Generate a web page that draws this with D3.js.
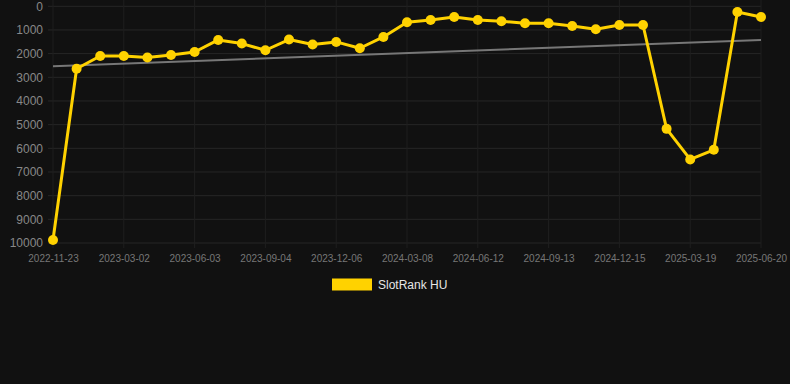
<!DOCTYPE html>
<html>
<head>
<meta charset="utf-8">
<script src="https://cdn.jsdelivr.net/npm/d3@7/dist/d3.min.js"></script>
<style>
  html, body { margin: 0; padding: 0; background: #111111; }
  svg { display: block; }
</style>
</head>
<body>
<svg id="chart" width="790" height="384"></svg>
<script>
const categories = [
  "2022-11-23","2022-12-26","2023-01-28","2023-03-02","2023-04-02","2023-05-03",
  "2023-06-03","2023-07-04","2023-08-04","2023-09-04","2023-10-05","2023-11-05",
  "2023-12-06","2024-01-06","2024-02-06","2024-03-08","2024-04-10","2024-05-11",
  "2024-06-12","2024-07-13","2024-08-13","2024-09-13","2024-10-14","2024-11-14",
  "2024-12-15","2025-01-15","2025-02-16","2025-03-19","2025-04-19","2025-05-20",
  "2025-06-20"
];
const rankValues = [
  9870, 2640, 2100, 2100, 2165, 2055,
  1930, 1420, 1575, 1857, 1406, 1617,
  1505, 1772, 1294, 675, 578, 451,
  578, 633, 717, 717, 831, 970,
  789, 789, 5177, 6470, 6063, 240,
  451
];
const trendValues = [2530, 1420];
const yTicks = [0,1000,2000,3000,4000,5000,6000,7000,8000,9000,10000];
const xTickLabels = categories.filter((d, i) => i % 3 === 0);
const seriesName = "SlotRank HU";

const svg = d3.select("#chart");
const x = d3.scalePoint().domain(categories).range([53, 761]);
const y = d3.scaleLinear().domain([0, 10000]).range([6.3, 243]);
const font = "Arial, 'Liberation Sans', Helvetica, sans-serif";

// grid
const grid = svg.append("g");
grid.selectAll("line.h").data(yTicks).enter().append("line")
  .attr("x1", 48).attr("x2", 761)
  .attr("y1", d => y(d)).attr("y2", d => y(d))
  .attr("stroke", "#262626").attr("stroke-width", 1);
grid.selectAll("line.v").data(xTickLabels).enter().append("line")
  .attr("x1", d => x(d)).attr("x2", d => x(d))
  .attr("y1", 0).attr("y2", 248)
  .attr("stroke", "#1f1f1f").attr("stroke-width", 1);

// axes
const yAxis = d3.axisLeft(y).tickValues(yTicks).tickSize(0).tickPadding(10).tickFormat(d3.format("d"));
const gy = svg.append("g").attr("transform", "translate(53,0)").call(yAxis);
gy.select(".domain").remove();
gy.selectAll("text").attr("fill", "#888").style("font-family", font).style("font-size", "12px");

const xAxis = d3.axisBottom(x).tickValues(xTickLabels).tickSize(0).tickPadding(12);
const gx = svg.append("g").attr("transform", "translate(0,243)").call(xAxis);
gx.select(".domain").remove();
gx.selectAll("text").attr("fill", "#777").style("font-family", font).style("font-size", "10px");

// trend line
svg.append("line")
  .attr("x1", x(categories[0])).attr("y1", y(trendValues[0]))
  .attr("x2", x(categories[categories.length - 1])).attr("y2", y(trendValues[1]))
  .attr("stroke", "#777").attr("stroke-width", 2);

// series line
const line = d3.line().x((d, i) => x(categories[i])).y(d => y(d));
svg.append("path").datum(rankValues)
  .attr("d", line).attr("fill", "none")
  .attr("stroke", "#FFD200").attr("stroke-width", 3).attr("stroke-linejoin", "round");

svg.selectAll("circle.pt").data(rankValues).enter().append("circle")
  .attr("cx", (d, i) => x(categories[i])).attr("cy", d => y(d))
  .attr("r", 5).attr("fill", "#FFD200");

// legend
const lg = svg.append("g");
lg.append("rect").attr("x", 332).attr("y", 278.5).attr("width", 40).attr("height", 12)
  .attr("fill", "#FFD200");
lg.append("text").attr("x", 378).attr("y", 289).text(seriesName)
  .attr("fill", "#e6e6e6").style("font-family", font).style("font-size", "12px");
</script>
</body>
</html>
